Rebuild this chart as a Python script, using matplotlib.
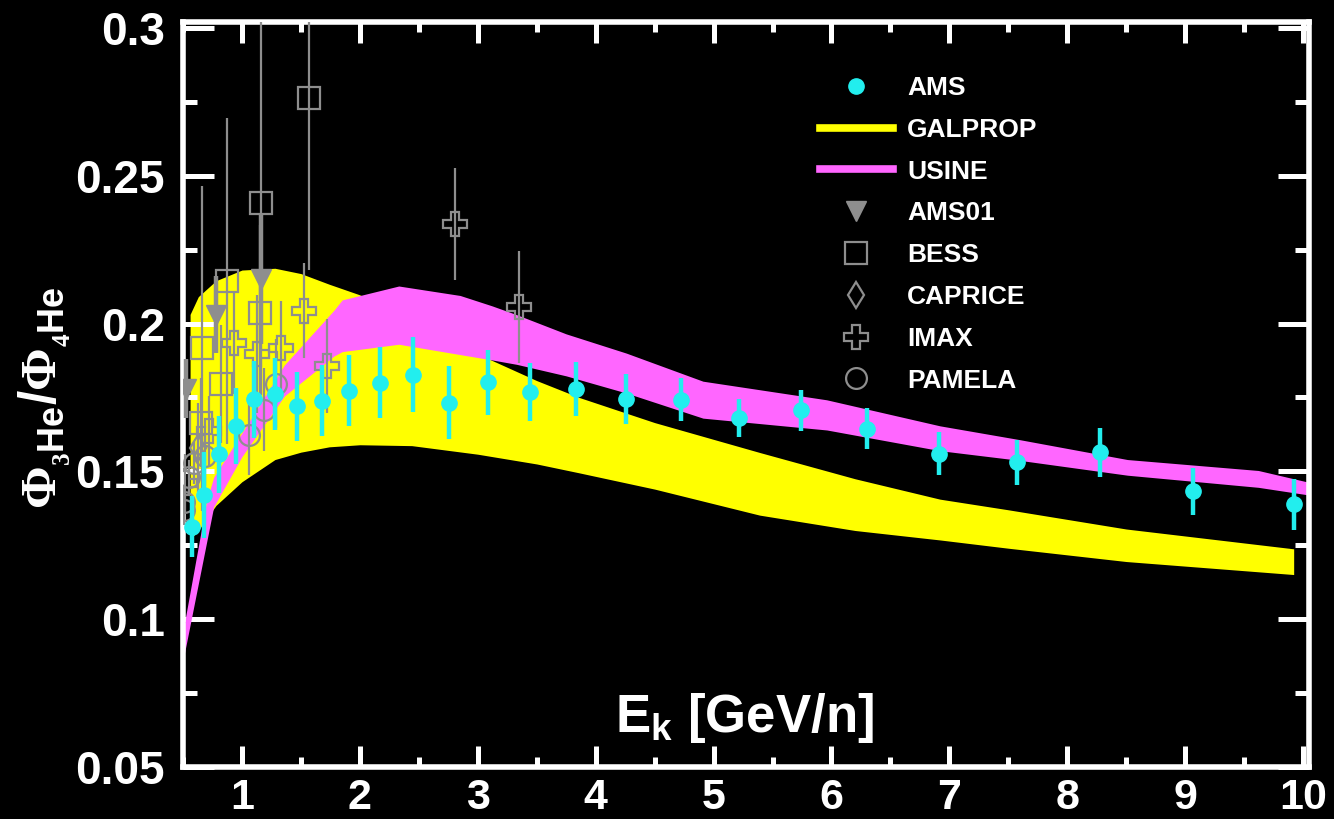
import matplotlib
matplotlib.use("Agg")
import matplotlib.pyplot as plt
from matplotlib.lines import Line2D

plt.rcParams['font.family'] = ['Liberation Sans', 'DejaVu Sans']
plt.rcParams['font.weight'] = 'bold'
plt.rcParams['mathtext.fontset'] = 'custom'
plt.rcParams['mathtext.rm'] = 'Liberation Serif'
plt.rcParams['mathtext.sf'] = 'Liberation Sans:bold'
plt.rcParams['mathtext.bf'] = 'Liberation Sans:bold'

# ---- AMS 3He/4He ratio ----
ams_x = [0.578, 0.677, 0.805, 0.946, 1.10, 1.28, 1.47, 1.677, 1.909, 2.17, 2.447,
         2.753, 3.084, 3.447, 3.835, 4.26, 4.72, 5.217, 5.745, 6.30, 6.91, 7.57,
         8.28, 9.066, 9.92]
ams_y = [0.1312, 0.1420, 0.1558, 0.1654, 0.1744, 0.1762, 0.1720, 0.1739, 0.1773,
         0.1799, 0.1827, 0.1732, 0.1802, 0.1768, 0.1779, 0.1745, 0.1743, 0.1681,
         0.1706, 0.1644, 0.1560, 0.1530, 0.1564, 0.1432, 0.1388]
ams_err = [0.0103, 0.0145, 0.0130, 0.0128, 0.0130, 0.0123, 0.0117, 0.0120, 0.0120,
           0.0120, 0.0127, 0.0124, 0.0110, 0.0098, 0.0091, 0.0086, 0.0073, 0.0065,
           0.0069, 0.0070, 0.0073, 0.0076, 0.0084, 0.0081, 0.0085]

# ---- GALPROP band ----
galprop_x = [0.56, 0.63, 0.78, 1.0, 1.28, 1.5, 1.74, 2.0, 2.44, 3.0, 3.5, 3.86,
             4.5, 5.39, 6.2, 6.92, 7.5, 8.5, 9.92]
galprop_hi = [0.2031, 0.2091, 0.2145, 0.2181, 0.2187, 0.2169, 0.2133, 0.2097,
              0.2015, 0.1897, 0.1807, 0.1750, 0.1665, 0.1564, 0.1475, 0.1406,
              0.1370, 0.1305, 0.1238]
galprop_lo = [0.1270, 0.1300, 0.1385, 0.1465, 0.1540, 0.1565, 0.1583, 0.1590,
              0.1587, 0.1558, 0.1525, 0.1495, 0.1440, 0.1352, 0.1300, 0.1268,
              0.1240, 0.1195, 0.1151]

# ---- USINE band ----
usine_x = [0.5, 0.6, 0.7, 0.76, 1.0, 1.36, 1.78, 1.85, 2.33, 2.85, 3.12, 3.33,
           3.75, 4.26, 4.91, 5.96, 6.92, 7.60, 8.51, 9.62, 10.05]
usine_hi = [0.096, 0.118, 0.140, 0.148, 0.163, 0.186, 0.2045, 0.2080, 0.2127,
            0.2095, 0.2060, 0.2030, 0.1965, 0.1900, 0.1805, 0.1742, 0.1654,
            0.1607, 0.1540, 0.1503, 0.1463]
usine_lo = [0.086, 0.106, 0.126, 0.138, 0.155, 0.1755, 0.1890, 0.1905, 0.1930,
            0.1895, 0.1877, 0.1862, 0.1823, 0.1765, 0.1680, 0.1640, 0.1570,
            0.1537, 0.1487, 0.1446, 0.1420]

# ---- earlier measurements ----
ams01_x = [0.524, 0.779, 1.16]
ams01_y = [0.178, 0.203, 0.215]
ams01_err = [0.010, 0.013, 0.022]

bess_x = [0.65, 0.66, 0.82, 0.87, 1.15, 1.16, 1.57]
bess_y = [0.1665, 0.1916, 0.1795, 0.2144, 0.2035, 0.2409, 0.2762]
bess_err = [0.015, 0.055, 0.020, 0.055, 0.030, 0.065, 0.058]

caprice_x = [0.63]
caprice_y = [0.158]
caprice_err = [0.015]

imax_x = [0.52, 0.72, 0.93, 1.13, 1.33, 1.527, 1.725, 2.807, 3.35]
imax_y = [0.146, 0.1636, 0.1933, 0.1897, 0.1916, 0.2044, 0.1857, 0.2337, 0.2055]
imax_err = [0.010, 0.012, 0.017, 0.020, 0.016, 0.016, 0.016, 0.019, 0.019]

pamela_x = [0.51, 0.51, 0.55, 0.59, 0.69, 1.06, 1.19, 1.29]
pamela_y = [0.137, 0.1396, 0.148, 0.1528, 0.1552, 0.1624, 0.1708, 0.1797]
pamela_err = [0.005, 0.005, 0.006, 0.007, 0.010, 0.0135, 0.014, 0.015]

x_ticks = [1, 2, 3, 4, 5, 6, 7, 8, 9, 10]
y_ticks = [0.05, 0.1, 0.15, 0.2, 0.25, 0.3]
y_ticklabels = ['0.05', '0.1', '0.15', '0.2', '0.25', '0.3']

W, H = 1334, 819
fig = plt.figure(figsize=(W / 100, H / 100), dpi=100, facecolor='black')
ax = fig.add_axes([183 / W, 1 - 767 / H, (1309 - 183) / W, (767 - 22) / H])
ax.set_facecolor('black')

YELLOW = '#ffff00'
PINK = '#ff66ff'
CYAN = '#22eeee'
GRAY = '#8e8e8e'

ax.fill_between(galprop_x, galprop_lo, galprop_hi, color=YELLOW, lw=0, zorder=1)
ax.fill_between(usine_x, usine_lo, usine_hi, color=PINK, lw=0, zorder=2)

gkw = dict(color=GRAY, ecolor=GRAY, linestyle='none', elinewidth=1.6,
           capsize=0, zorder=3, markeredgewidth=1.6)
ax.errorbar(pamela_x, pamela_y, yerr=pamela_err, marker='o', ms=15,
            mfc='none', mec=GRAY, **gkw)
ax.errorbar(imax_x, imax_y, yerr=imax_err, marker='P', ms=17,
            mfc='none', mec=GRAY, **gkw)
ax.errorbar(caprice_x, caprice_y, yerr=caprice_err, marker='d', ms=13,
            mfc='none', mec=GRAY, **gkw)
ax.errorbar(bess_x, bess_y, yerr=bess_err, marker='s', ms=16,
            mfc='none', mec=GRAY, **gkw)
ax.errorbar(ams01_x, ams01_y, yerr=ams01_err, marker='v', ms=15,
            mfc=GRAY, mec=GRAY, color=GRAY, ecolor=GRAY, linestyle='none',
            elinewidth=3.2, capsize=0, zorder=3)

ax.errorbar(ams_x, ams_y, yerr=ams_err, marker='o', ms=11, color=CYAN,
            ecolor=CYAN, mec=CYAN, linestyle='none', elinewidth=3.2,
            capsize=0, zorder=5)

ax.set_xlim(0.5, 10.05)
ax.set_ylim(0.05, 0.302)
ax.set_xticks(x_ticks)
ax.set_xticks([v + 0.5 for v in [0] + x_ticks[:-1]], minor=True)
ax.set_yticks(y_ticks)
ax.set_yticklabels(y_ticklabels)
ax.set_yticks([0.075, 0.125, 0.175, 0.225, 0.275], minor=True)

for sp in ax.spines.values():
    sp.set_color('white')
    sp.set_linewidth(4)

ax.tick_params(which='both', direction='in', colors='white', top=True,
               right=True, width=3.6)
ax.tick_params(axis='x', which='major', length=15, pad=8, labelsize=31)
ax.tick_params(axis='x', which='minor', length=7)
ax.tick_params(axis='y', which='major', length=22, pad=13, labelsize=33)
ax.tick_params(axis='y', which='minor', length=10)
for lbl in ax.get_xticklabels() + ax.get_yticklabels():
    lbl.set_fontweight('bold')

fig.text(744 / W, 1 - 732 / H, r'E$_\mathsf{k}$ [GeV/n]', color='white',
         fontsize=38, fontweight='bold', ha='center', va='baseline')
fig.text(44 / W, 1 - 398 / H,
         r'$\Phi_{{}_{3}\mathsf{He}}\mathsf{/}\Phi_{{}_{4}\mathsf{He}}$',
         color='white', fontsize=37, rotation=90, ha='center', va='center')

handles = [
    Line2D([], [], marker='o', ms=11, color=CYAN, linestyle='none'),
    Line2D([], [], color=YELLOW, lw=5.5),
    Line2D([], [], color=PINK, lw=5.5),
    Line2D([], [], marker='v', ms=15, color=GRAY, linestyle='none'),
    Line2D([], [], marker='s', ms=16, mfc='none', mec=GRAY, mew=1.6, linestyle='none'),
    Line2D([], [], marker='d', ms=13, mfc='none', mec=GRAY, mew=1.6, linestyle='none'),
    Line2D([], [], marker='P', ms=17, mfc='none', mec=GRAY, mew=1.6, linestyle='none'),
    Line2D([], [], marker='o', ms=15, mfc='none', mec=GRAY, mew=1.6, linestyle='none'),
]
labels = ['AMS', 'GALPROP', 'USINE', 'AMS01', 'BESS', 'CAPRICE', 'IMAX', 'PAMELA']
leg = ax.legend(handles, labels, loc='upper left',
                bbox_to_anchor=(820 / W, 1 - 76 / H), bbox_transform=fig.transFigure,
                frameon=False, borderpad=0, borderaxespad=0, handlelength=2.75,
                handletextpad=0.55, labelspacing=0.675,
                prop={'family': 'Liberation Sans', 'weight': 'bold', 'size': 19})
for t in leg.get_texts():
    t.set_color('white')

fig.savefig('out.png', dpi=100, facecolor='black')
